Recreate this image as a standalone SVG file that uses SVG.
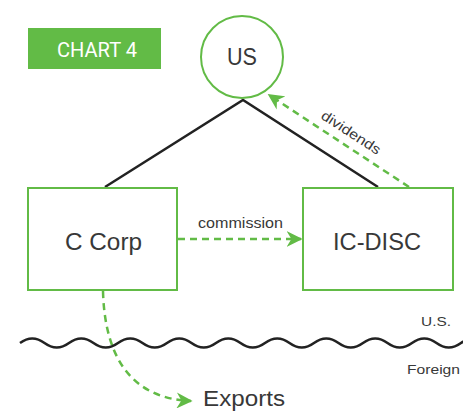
<svg xmlns="http://www.w3.org/2000/svg" width="463" height="412" viewBox="0 0 463 412">
<defs>
<style>
.node{fill:#fff;stroke:#62bb46;stroke-width:2}
.lbl{font-family:"Liberation Sans",Arial,sans-serif;fill:#383838}
.dash{fill:none;stroke:#62bb46;stroke-width:2.5;stroke-dasharray:7 5}
.tree{fill:none;stroke:#222;stroke-width:2.5}
</style>
<marker id="ah" viewBox="0 0 10 10" refX="9" refY="5" markerWidth="16" markerHeight="16" markerUnits="userSpaceOnUse" orient="auto">
<path d="M0,0 L10,5 L0,10 L3,5 Z" fill="#62bb46"/>
</marker>
</defs>
<rect width="463" height="412" fill="#fff"/>
<g id="title">
<rect x="28" y="28" width="133" height="41" fill="#62bb46"/>
<text x="57" y="57" font-family="Roboto,'Liberation Sans',sans-serif" font-size="20" fill="#fff" textLength="80" lengthAdjust="spacingAndGlyphs">CHART 4</text>
</g>
<g id="connectors">
<path class="tree" d="M105,187 L243,100 L378,187"/>
<path class="dash" d="M409,187 L269,95" marker-end="url(#ah)"/>
<path class="dash" d="M178,239 L301,239" marker-end="url(#ah)"/>
<path class="dash" d="M103,291 C105,368 140,399 191,401" marker-end="url(#ah)"/>
<text class="lbl" x="0" y="0" font-size="14" transform="translate(320,118) rotate(33)" textLength="68" lengthAdjust="spacingAndGlyphs">dividends</text>
<text class="lbl" x="198" y="228" font-size="14.5" textLength="85" lengthAdjust="spacingAndGlyphs">commission</text>
</g>
<g id="us">
<circle class="node" cx="242" cy="57" r="41"/>
<text class="lbl" x="227" y="65" font-size="23" textLength="30" lengthAdjust="spacingAndGlyphs">US</text>
</g>
<g id="ccorp">
<rect class="node" x="28" y="188" width="149" height="102"/>
<text class="lbl" x="65" y="250" font-size="23" textLength="77" lengthAdjust="spacingAndGlyphs">C Corp</text>
</g>
<g id="icdisc">
<rect class="node" x="303" y="188" width="150" height="102"/>
<text class="lbl" x="333" y="250" font-size="23" textLength="88" lengthAdjust="spacingAndGlyphs">IC-DISC</text>
</g>
<g id="border">
<path fill="none" stroke="#222" stroke-width="2.5" d="M20,343 q12.25,-9 24.5,0 t24.5,0 t24.5,0 t24.5,0 t24.5,0 t24.5,0 t24.5,0 t24.5,0 t24.5,0 t24.5,0 t24.5,0 t24.5,0 t24.5,0 t24.5,0 t24.5,0 t24.5,0 t24.5,0 t24.5,0 t24.5,0"/>
<text class="lbl" x="421" y="326" font-size="13.5" textLength="30" lengthAdjust="spacingAndGlyphs">U.S.</text>
<text class="lbl" x="407" y="374" font-size="13.5" textLength="53" lengthAdjust="spacingAndGlyphs">Foreign</text>
</g>
<g id="exports">
<text class="lbl" x="203" y="406" font-size="22.5" textLength="82" lengthAdjust="spacingAndGlyphs">Exports</text>
</g>
</svg>
